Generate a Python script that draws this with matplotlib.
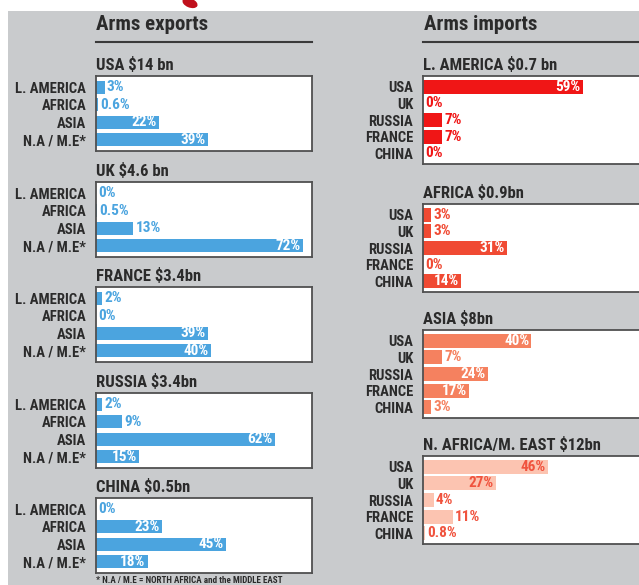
import matplotlib
matplotlib.use('Agg')
import matplotlib.pyplot as plt
from matplotlib.patches import Rectangle, Ellipse
from matplotlib.lines import Line2D

# --- data -------------------------------------------------------------
export_regions = ['L. AMERICA', 'AFRICA', 'ASIA', 'N.A / M.E*']
exporter_titles = ['USA $14 bn', 'UK $4.6 bn', 'FRANCE $3.4bn', 'RUSSIA $3.4bn', 'CHINA $0.5bn']
usa_exports = [3, 0.6, 22, 39]
uk_exports = [0, 0.5, 13, 72]
france_exports = [2, 0, 39, 40]
russia_exports = [2, 9, 62, 15]
china_exports = [0, 23, 45, 18]

import_sources = ['USA', 'UK', 'RUSSIA', 'FRANCE', 'CHINA']
importer_titles = ['L. AMERICA $0.7 bn', 'AFRICA $0.9bn', 'ASIA $8bn', 'N. AFRICA/M. EAST $12bn']
latam_imports = [59, 0, 7, 7, 0]
africa_imports = [3, 3, 31, 0, 14]
asia_imports = [40, 7, 24, 17, 3]
nafrica_imports = [46, 27, 4, 11, 0.8]

footnote = '* N.A / M.E = NORTH AFRICA and the MIDDLE EAST'

# --- style -------------------------------------------------------------
plt.rcParams['font.family'] = ['Roboto Condensed', 'Liberation Sans', 'DejaVu Sans']
plt.rcParams['font.weight'] = 'bold'
TXT = '#2b2b2b'
BG = '#c9cbcd'
EDGE = '#505050'

W, H = 639, 585
fig = plt.figure(figsize=(W / 100, H / 100), dpi=100)
fig.patch.set_facecolor('white')


def fx(x):
    return x / W


def fy(y):
    return 1 - y / H


# grey backdrop and a bit of the logo peeking in at the top
fig.add_artist(Rectangle((fx(8), 0), 1 - fx(8), fy(11), transform=fig.transFigure,
                         facecolor=BG, edgecolor='none', zorder=0))
fig.add_artist(Ellipse((fx(190), fy(3)), 16 / W, 9 / H, angle=-25, transform=fig.transFigure,
                       facecolor='#c0101c', edgecolor='none', zorder=1))


def panel(x0, y0, x1, y1, title, labels, values, xmax, bar_color, out_color, in_color, bar_h):
    ax = fig.add_axes([fx(x0), fy(y1), (x1 - x0) / W, (y1 - y0) / H])
    ax.set_facecolor('white')
    n = len(labels)
    ys = list(range(n))
    ax.barh(ys, values, height=bar_h, color=bar_color, edgecolor='none')
    for y, v in zip(ys, values):
        s = f'{v:g}%'
        if v > 13:
            ax.text(v - 0.8, y, s, ha='right', va='center', color=in_color, fontsize=11)
        else:
            ax.text(v + 0.8, y, s, ha='left', va='center', color=out_color, fontsize=11)
    ax.set_xlim(0, xmax)
    ax.set_ylim(n - 0.35, -0.65)
    ax.set_xticks([])
    ax.set_yticks(ys)
    ax.set_yticklabels(labels, fontsize=10.5, color=TXT)
    ax.tick_params(axis='y', length=0, pad=7)
    for sp in ax.spines.values():
        sp.set_color(EDGE)
        sp.set_linewidth(1.3)
    fig.text(fx(x0), fy(y0 - 6), title, fontsize=12, color=TXT, va='baseline')
    return ax


# --- headers -------------------------------------------------------------
fig.text(fx(96), fy(30), 'Arms exports', fontsize=15, color=TXT, va='baseline')
fig.text(fx(424), fy(30), 'Arms imports', fontsize=15, color=TXT, va='baseline')
fig.add_artist(Line2D([fx(96), fx(312)], [fy(42), fy(42)], transform=fig.transFigure,
                      color='#3a3a3a', lw=1.5))
fig.add_artist(Line2D([fx(423), fx(639)], [fy(42), fy(42)], transform=fig.transFigure,
                      color='#3a3a3a', lw=1.5))

# --- exports (left column) ------------------------------------------------
blue = '#4ba4df'
exports = [usa_exports, uk_exports, france_exports, russia_exports, china_exports]
tops = [76, 182, 287, 393, 498]
for top, title, vals in zip(tops, exporter_titles, exports):
    panel(96, top, 312, top + 75, title, export_regions, vals, 75, blue, blue, 'white', 0.75)

# --- imports (right column) -----------------------------------------------
imports = [latam_imports, africa_imports, asia_imports, nafrica_imports]
bar_cols = ['#f01616', '#f04a33', '#f5815f', '#fcc4b1']
out_cols = ['#f01616', '#f04a33', '#f5815f', '#f0533e']
in_cols = ['white', 'white', 'white', '#f0533e']
tops = [76, 204, 330, 456]
for top, title, vals, bc, oc, ic in zip(tops, importer_titles, imports, bar_cols, out_cols, in_cols):
    panel(423, top, 641, top + 88, title, import_sources, vals, 80.5, bc, oc, ic, 0.84)

fig.text(fx(96), fy(576), footnote, fontsize=6.5, color=TXT, va='top')

fig.savefig('out.png', dpi=100, facecolor=fig.get_facecolor())
